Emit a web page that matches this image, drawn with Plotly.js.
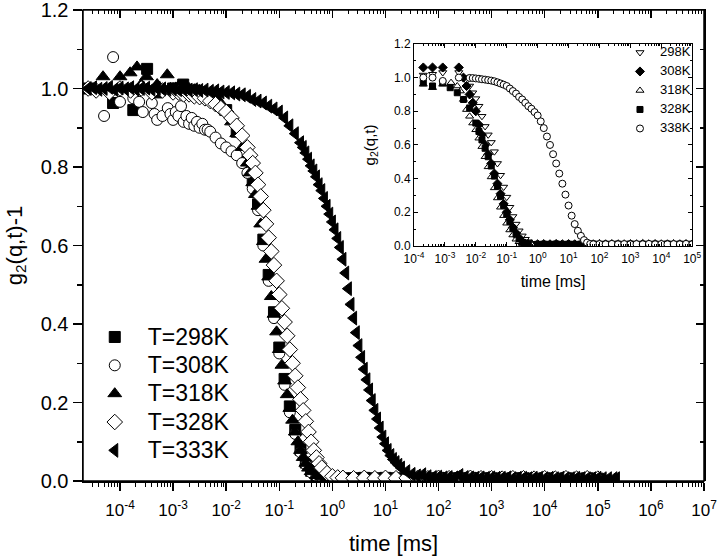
<!DOCTYPE html>
<html>
<head>
<meta charset="utf-8">
<script src="https://cdn.plot.ly/plotly-3.0.1.min.js"></script>
<style>html,body{margin:0;padding:0;background:#fff;}#chart{width:720px;height:559px;}</style>
</head>
<body>
<div id="chart"></div>
<script>
// ---------------- Main chart data (time in ms, g2(q,t)-1) ----------------
const t298 = [2.51e-5, 7.41e-5, 1.78e-4, 3.24e-4, 5.01e-4, 1.0e-3, 1.55e-3, 2.51e-3, 3.98e-3, 6.31e-3, 1.0e-2, 1.58e-2, 2.51e-2, 3.16e-2, 3.98e-2, 5.01e-2, 6.31e-2, 7.94e-2, 0.1, 0.126, 0.158, 0.2, 0.251, 0.316, 0.398, 0.501, 0.631, 1.0, 1.58, 2.51, 3.98, 6.31, 10, 15.8, 25.1, 39.8, 63.1, 100, 158, 251, 398, 631, 1000, 1580, 2510, 3980, 6310, 1e4, 1.58e4, 2.51e4, 3.98e4, 6.31e4, 1e5];
const g298 = [1.0, 0.963, 0.945, 1.05, 0.99, 1.0, 1.01, 0.995, 0.985, 0.97, 0.945, 0.89, 0.815, 0.765, 0.705, 0.615, 0.525, 0.43, 0.34, 0.26, 0.19, 0.13, 0.08, 0.047, 0.026, 0.015, 0.01, 0.008, 0.007, 0.007, 0.008, 0.007, 0.008, 0.007, 0.008, 0.007, 0.007, 0.008, 0.007, 0.007, 0.008, 0.007, 0.007, 0.006, 0.007, 0.007, 0.006, 0.007, 0.006, 0.007, 0.006, 0.007, 0.006];

const t308 = [5.01e-5, 7.41e-5, 1.0e-4, 1.78e-4, 2.29e-4, 2.69e-4, 3.98e-4, 4.47e-4, 5.01e-4, 6.31e-4, 7.94e-4, 8.91e-4, 1.0e-3, 1.12e-3, 1.26e-3, 1.41e-3, 1.58e-3, 1.78e-3, 2.0e-3, 2.24e-3, 2.51e-3, 2.82e-3, 3.16e-3, 3.55e-3, 3.98e-3, 4.47e-3, 5.01e-3, 6.31e-3, 7.94e-3, 1.0e-2, 1.26e-2, 1.58e-2, 2.0e-2, 2.51e-2, 3.16e-2, 3.98e-2, 5.01e-2, 6.31e-2, 7.94e-2, 0.1, 0.126, 0.158, 0.2, 0.251, 0.316, 0.398, 0.501, 0.631, 1.0, 1.58, 2.51, 3.98, 6.31, 10, 15.8, 25.1, 39.8, 63.1, 100, 158, 251, 398, 631, 1000, 1580, 2510, 3980, 6310, 1e4, 1.58e4, 2.51e4, 3.98e4, 6.31e4, 1e5];
const g308 = [0.93, 1.08, 0.966, 0.975, 0.966, 0.94, 0.963, 0.935, 0.92, 0.93, 0.95, 0.935, 0.92, 0.94, 0.93, 0.955, 0.915, 0.93, 0.91, 0.925, 0.905, 0.915, 0.90, 0.91, 0.895, 0.895, 0.89, 0.875, 0.86, 0.85, 0.84, 0.83, 0.81, 0.785, 0.745, 0.69, 0.60, 0.51, 0.415, 0.325, 0.245, 0.175, 0.12, 0.073, 0.042, 0.022, 0.013, 0.009, 0.008, 0.007, 0.008, 0.007, 0.008, 0.007, 0.008, 0.007, 0.008, 0.007, 0.007, 0.008, 0.007, 0.007, 0.007, 0.006, 0.007, 0.007, 0.006, 0.007, 0.006, 0.007, 0.006, 0.007, 0.006, 0.007];

const t318 = [2.51e-5, 4.79e-5, 1.0e-4, 1.55e-4, 2.09e-4, 2.51e-4, 3.16e-4, 5.01e-4, 7.76e-4, 1.0e-3, 1.26e-3, 1.58e-3, 2.0e-3, 2.51e-3, 3.16e-3, 3.98e-3, 5.01e-3, 6.31e-3, 7.94e-3, 1.0e-2, 1.26e-2, 1.58e-2, 2.0e-2, 2.51e-2, 2.82e-2, 3.16e-2, 3.55e-2, 3.98e-2, 4.47e-2, 5.01e-2, 5.62e-2, 6.31e-2, 7.08e-2, 7.94e-2, 8.91e-2, 0.1, 0.112, 0.126, 0.141, 0.158, 0.178, 0.2, 0.224, 0.251, 0.282, 0.316, 0.355, 0.398, 0.501, 0.631, 0.794, 1.0, 1.58, 2.51, 3.98, 6.31, 10, 15.8, 25.1, 39.8, 63.1, 100, 158, 251, 398, 631, 1000, 1580, 2510, 3980, 6310, 1e4, 1.58e4, 2.51e4, 3.98e4, 6.31e4, 1e5];
const g318 = [1.0, 1.03, 1.03, 1.04, 1.055, 1.01, 1.03, 1.01, 1.035, 1.0, 1.005, 0.998, 1.0, 0.997, 0.995, 0.99, 0.985, 0.975, 0.962, 0.94, 0.915, 0.885, 0.85, 0.81, 0.785, 0.76, 0.73, 0.70, 0.655, 0.61, 0.565, 0.52, 0.47, 0.425, 0.38, 0.335, 0.295, 0.255, 0.22, 0.185, 0.155, 0.125, 0.10, 0.078, 0.06, 0.045, 0.033, 0.024, 0.014, 0.011, 0.009, 0.008, 0.008, 0.007, 0.009, 0.007, 0.008, 0.007, 0.008, 0.007, 0.008, 0.007, 0.008, 0.007, 0.007, 0.008, 0.007, 0.007, 0.006, 0.007, 0.007, 0.006, 0.007, 0.006, 0.007, 0.006, 0.007];

const t328 = [2.51e-5, 3.55e-5, 6.31e-5, 1.0e-4, 1.58e-4, 2.51e-4, 3.98e-4, 6.31e-4, 1.0e-3, 1.26e-3, 1.58e-3, 2.0e-3, 2.51e-3, 3.16e-3, 3.98e-3, 5.01e-3, 6.31e-3, 7.94e-3, 1.0e-2, 1.26e-2, 1.58e-2, 2.0e-2, 2.51e-2, 2.82e-2, 3.16e-2, 3.55e-2, 3.98e-2, 4.47e-2, 5.01e-2, 5.62e-2, 6.31e-2, 7.08e-2, 7.94e-2, 8.91e-2, 0.1, 0.112, 0.126, 0.141, 0.158, 0.178, 0.2, 0.224, 0.251, 0.282, 0.316, 0.355, 0.398, 0.447, 0.501, 0.562, 0.631, 0.794, 1.0, 1.26, 1.58, 2.51, 3.98, 6.31, 10, 15.8, 25.1, 39.8, 63.1, 100, 158, 251, 398, 631, 1000, 1580, 2510, 3980, 6310, 1e4, 1.58e4, 2.51e4, 3.98e4, 6.31e4, 1e5];
const g328 = [1.0, 0.995, 0.99, 1.0, 0.995, 1.0, 0.99, 0.995, 0.99, 0.99, 0.985, 0.985, 0.98, 0.978, 0.975, 0.968, 0.96, 0.95, 0.94, 0.925, 0.905, 0.88, 0.85, 0.83, 0.81, 0.785, 0.755, 0.725, 0.69, 0.655, 0.62, 0.585, 0.55, 0.51, 0.475, 0.44, 0.405, 0.37, 0.335, 0.30, 0.268, 0.238, 0.208, 0.18, 0.152, 0.125, 0.10, 0.078, 0.06, 0.045, 0.034, 0.02, 0.012, 0.009, 0.008, 0.007, 0.008, 0.007, 0.008, 0.007, 0.008, 0.007, 0.007, 0.008, 0.007, 0.007, 0.008, 0.007, 0.007, 0.006, 0.007, 0.007, 0.006, 0.007, 0.006, 0.007, 0.006, 0.007, 0.006];

const t333 = [2.51e-5, 3.16e-5, 3.98e-5, 5.01e-5, 6.31e-5, 7.94e-5, 1.0e-4, 1.26e-4, 1.58e-4, 2.0e-4, 2.51e-4, 3.16e-4, 3.98e-4, 5.01e-4, 6.31e-4, 7.94e-4, 1.0e-3, 1.26e-3, 1.58e-3, 2.0e-3, 2.51e-3, 3.16e-3, 3.98e-3, 5.01e-3, 6.31e-3, 7.94e-3, 1.0e-2, 1.26e-2, 1.58e-2, 2.0e-2, 2.51e-2, 3.16e-2, 3.98e-2, 5.01e-2, 6.31e-2, 7.94e-2, 0.1, 0.126, 0.158, 0.2, 0.251, 0.282, 0.316, 0.355, 0.398, 0.447, 0.501, 0.562, 0.631, 0.708, 0.794, 0.891, 1.0, 1.12, 1.26, 1.41, 1.58, 1.78, 2.0, 2.24, 2.51, 2.82, 3.16, 3.55, 3.98, 4.47, 5.01, 5.62, 6.31, 7.08, 7.94, 8.91, 10, 11.2, 12.6, 14.1, 15.8, 17.8, 20, 25.1, 31.6, 39.8, 50.1, 63.1, 79.4, 100, 126, 158, 200, 251, 316, 398, 501, 631, 794, 1000, 1260, 1580, 2000, 2510, 3160, 3980, 5010, 6310, 7940, 1e4, 1.26e4, 1.58e4, 2e4, 2.51e4, 3.16e4, 3.98e4, 5.01e4, 6.31e4, 7.94e4, 1e5, 1.26e5, 1.58e5, 2e5, 2.24e5];
const g333 = [1.0, 1.002, 0.998, 1.0, 1.003, 0.997, 1.001, 0.999, 1.002, 0.998, 1.0, 1.001, 0.998, 1.0, 0.999, 0.998, 0.999, 0.997, 0.998, 0.996, 0.997, 0.995, 0.996, 0.993, 0.994, 0.991, 0.99, 0.989, 0.986, 0.984, 0.98, 0.972, 0.968, 0.963, 0.955, 0.948, 0.94, 0.925, 0.905, 0.885, 0.862, 0.85, 0.836, 0.82, 0.803, 0.79, 0.775, 0.755, 0.74, 0.72, 0.70, 0.68, 0.66, 0.64, 0.618, 0.595, 0.565, 0.53, 0.49, 0.45, 0.415, 0.378, 0.345, 0.315, 0.285, 0.258, 0.232, 0.205, 0.18, 0.158, 0.135, 0.112, 0.095, 0.078, 0.065, 0.055, 0.047, 0.04, 0.033, 0.024, 0.017, 0.013, 0.016, 0.011, 0.009, 0.01, 0.008, 0.009, 0.008, 0.014, 0.009, 0.008, 0.007, 0.008, 0.007, 0.008, 0.007, 0.007, 0.008, 0.006, 0.007, 0.007, 0.006, 0.007, 0.007, 0.006, 0.007, 0.006, 0.007, 0.006, 0.006, 0.007, 0.006, 0.006, 0.006, 0.007, 0.006, 0.006, 0.006, 0.006];

// ---------------- Inset data (time in ms, g2(q,t)) ----------------
const tIn298 = [2.0e-4, 3.98e-4, 8.51e-4, 2.82e-3, 3.98e-3, 5.01e-3, 6.31e-3, 7.94e-3, 1.0e-2, 1.26e-2, 1.58e-2, 2.0e-2, 2.51e-2, 3.16e-2, 3.98e-2, 5.01e-2, 6.31e-2, 7.94e-2, 0.1, 0.126, 0.158, 0.2, 0.251, 0.316, 0.398, 0.501, 0.631, 0.794, 1.0, 1.58, 2.51, 3.98, 6.31, 10, 15.8, 25.1, 39.8, 63.1, 100, 158, 251, 398, 631, 1000, 1580, 2510, 3980, 6310, 1e4, 1.58e4, 2.51e4, 3.98e4, 6.31e4, 1e5];
const gIn298 = [1.015, 1.02, 1.03, 1.03, 1.0, 0.98, 0.95, 0.91, 0.875, 0.83, 0.77, 0.71, 0.66, 0.615, 0.56, 0.49, 0.42, 0.35, 0.29, 0.23, 0.175, 0.13, 0.09, 0.06, 0.04, 0.025, 0.015, 0.012, 0.011, 0.01, 0.012, 0.01, 0.011, 0.01, 0.012, 0.01, 0.011, 0.01, 0.011, 0.01, 0.012, 0.01, 0.011, 0.01, 0.011, 0.01, 0.012, 0.01, 0.011, 0.01, 0.011, 0.01, 0.012, 0.01];

const tIn308 = [2.0e-4, 3.98e-4, 8.51e-4, 2.82e-3, 3.98e-3, 5.01e-3, 6.31e-3, 7.94e-3, 1.0e-2, 1.26e-2, 1.58e-2, 2.0e-2, 2.51e-2, 3.16e-2, 3.98e-2, 5.01e-2, 6.31e-2, 7.94e-2, 0.1, 0.126, 0.158, 0.2, 0.251, 0.316, 0.398, 0.501, 0.631, 1.0, 1.58, 2.51, 3.98, 6.31, 10, 15.8, 25.1, 39.8, 63.1, 100, 158, 251, 398, 631, 1000, 1580, 2510, 3980, 6310, 1e4, 1.58e4, 2.51e4, 3.98e4, 6.31e4, 1e5];
const gIn308 = [1.06, 1.06, 1.06, 1.06, 1.0, 0.95, 0.9, 0.85, 0.80, 0.72, 0.66, 0.60, 0.545, 0.49, 0.43, 0.37, 0.31, 0.25, 0.20, 0.155, 0.11, 0.075, 0.045, 0.025, 0.014, 0.011, 0.01, 0.01, 0.011, 0.01, 0.012, 0.01, 0.011, 0.01, 0.01, 0.011, 0.01, 0.012, 0.01, 0.011, 0.01, 0.01, 0.011, 0.01, 0.012, 0.01, 0.011, 0.01, 0.01, 0.011, 0.01, 0.011, 0.01];

const tIn318 = [2.0e-4, 3.98e-4, 8.51e-4, 1.58e-3, 2.51e-3, 3.16e-3, 3.98e-3, 5.01e-3, 6.31e-3, 7.94e-3, 1.0e-2, 1.26e-2, 1.58e-2, 2.0e-2, 2.51e-2, 3.16e-2, 3.98e-2, 5.01e-2, 6.31e-2, 7.94e-2, 0.1, 0.126, 0.158, 0.2, 0.251, 0.316, 0.398, 0.631, 1.0, 1.58, 2.51, 3.98, 6.31, 10, 15.8, 25.1, 39.8, 63.1, 100, 158, 251, 398, 631, 1000, 1580, 2510, 3980, 6310, 1e4, 1.58e4, 2.51e4, 3.98e4, 6.31e4, 1e5];
const gIn318 = [0.96, 0.94, 0.96, 0.97, 0.95, 0.92, 0.87, 0.81, 0.77, 0.73, 0.69, 0.64, 0.59, 0.53, 0.47, 0.41, 0.345, 0.285, 0.23, 0.18, 0.135, 0.095, 0.065, 0.04, 0.025, 0.015, 0.011, 0.01, 0.011, 0.01, 0.012, 0.01, 0.011, 0.01, 0.011, 0.01, 0.012, 0.01, 0.011, 0.01, 0.011, 0.01, 0.012, 0.01, 0.011, 0.01, 0.011, 0.01, 0.012, 0.01, 0.011, 0.01, 0.011, 0.01];

const tIn328 = [2.0e-4, 3.98e-4, 8.51e-4, 1.48e-3, 2.51e-3, 3.98e-3, 6.31e-3, 1.0e-2, 1.26e-2, 1.58e-2, 2.0e-2, 2.51e-2, 3.16e-2, 3.98e-2, 5.01e-2, 6.31e-2, 7.94e-2, 0.1, 0.126, 0.158, 0.2, 0.251, 0.316, 0.398, 0.501, 1.0, 1.58, 2.51, 3.98, 6.31, 10, 15.8, 25.1, 39.8, 63.1, 100, 158, 251, 398, 631, 1000, 1580, 2510, 3980, 6310, 1e4, 1.58e4, 2.51e4, 3.98e4, 6.31e4, 1e5];
const gIn328 = [0.97, 0.95, 0.97, 0.94, 0.91, 0.87, 0.82, 0.73, 0.68, 0.63, 0.58, 0.53, 0.475, 0.415, 0.355, 0.295, 0.24, 0.19, 0.145, 0.105, 0.07, 0.042, 0.022, 0.012, 0.01, 0.01, 0.011, 0.01, 0.012, 0.01, 0.011, 0.01, 0.011, 0.01, 0.012, 0.01, 0.011, 0.01, 0.011, 0.01, 0.012, 0.01, 0.011, 0.01, 0.011, 0.01, 0.012, 0.01, 0.011, 0.01, 0.011];

const tIn338 = [2.0e-4, 3.98e-4, 8.51e-4, 2.82e-3, 6.31e-3, 7.94e-3, 1.0e-2, 1.26e-2, 1.58e-2, 2.0e-2, 2.51e-2, 3.16e-2, 3.98e-2, 5.01e-2, 6.31e-2, 7.94e-2, 0.1, 0.126, 0.158, 0.2, 0.251, 0.316, 0.398, 0.501, 0.631, 0.794, 1.0, 1.26, 1.58, 2.0, 2.51, 3.16, 3.98, 5.01, 6.31, 7.94, 10, 12.6, 15.8, 20, 25.1, 31.6, 39.8, 50.1, 63.1, 100, 158, 251, 398, 631, 1000, 1580, 2510, 3980, 6310, 1e4, 1.58e4, 2.51e4, 3.98e4, 6.31e4, 1e5];
const gIn338 = [1.0, 1.0, 0.98, 1.0, 0.998, 0.997, 0.995, 0.993, 0.99, 0.988, 0.985, 0.982, 0.978, 0.972, 0.965, 0.958, 0.95, 0.935, 0.92, 0.905, 0.885, 0.87, 0.85, 0.83, 0.815, 0.795, 0.775, 0.74, 0.70, 0.65, 0.60, 0.545, 0.49, 0.43, 0.37, 0.305, 0.24, 0.18, 0.13, 0.09, 0.06, 0.035, 0.02, 0.012, 0.01, 0.011, 0.01, 0.012, 0.01, 0.011, 0.01, 0.011, 0.01, 0.012, 0.01, 0.011, 0.01, 0.011, 0.01, 0.012, 0.01];

// ---------------- Labels / ticks ----------------
const mainNames = ['T=298K', 'T=308K', 'T=318K', 'T=328K', 'T=333K'];
const insetNames = ['298K', '308K', '318K', '328K', '338K'];
const mainTickVals = [1e-4, 1e-3, 1e-2, 1e-1, 1e0, 1e1, 1e2, 1e3, 1e4, 1e5, 1e6, 1e7];
const mainTickText = ['10<sup>-4</sup>', '10<sup>-3</sup>', '10<sup>-2</sup>', '10<sup>-1</sup>', '10<sup>0</sup>', '10<sup>1</sup>', '10<sup>2</sup>', '10<sup>3</sup>', '10<sup>4</sup>', '10<sup>5</sup>', '10<sup>6</sup>', '10<sup>7</sup>'];
const insetTickVals = [1e-4, 1e-3, 1e-2, 1e-1, 1e0, 1e1, 1e2, 1e3, 1e4, 1e5];
const insetTickText = ['10<sup>-4</sup>', '10<sup>-3</sup>', '10<sup>-2</sup>', '10<sup>-1</sup>', '10<sup>0</sup>', '10<sup>1</sup>', '10<sup>2</sup>', '10<sup>3</sup>', '10<sup>4</sup>', '10<sup>5</sup>'];
const yTickVals = [0, 0.2, 0.4, 0.6, 0.8, 1.0, 1.2];
const yTickText = ['0.0', '0.2', '0.4', '0.6', '0.8', '1.0', '1.2'];
const yMinorVals = [0.1, 0.3, 0.5, 0.7, 0.9, 1.1];

function minorLogTicks(lo, hi) {
  const v = [];
  for (let e = lo; e < hi; e++) for (let m = 2; m <= 9; m++) v.push(m * Math.pow(10, e));
  return v;
}
const mainMinor = minorLogTicks(-5, 7);
const insetMinor = minorLogTicks(-4, 5);

const FONT = 'Liberation Sans, Arial, Helvetica, sans-serif';
const BLK = '#000';

function label(txt, px) { return '<span style="font-size:' + px + 'px">' + txt + '</span>'; }

function mk(x, y, name, symbol, size, fill, legend, xa, ya) {
  return {
    type: 'scatter', mode: 'markers', x: x, y: y, name: name,
    xaxis: xa, yaxis: ya, legend: legend,
    marker: { symbol: symbol, size: size, color: fill, line: { color: BLK, width: 1 } },
    hoverinfo: 'skip'
  };
}

const traces = [
  mk(t298, g298, label(mainNames[0], 23), 'square', 11, BLK, 'legend', 'x', 'y'),
  mk(t308, g308, label(mainNames[1], 23), 'circle', 11, '#fff', 'legend', 'x', 'y'),
  mk(t318, g318, label(mainNames[2], 23), 'triangle-up', 12, BLK, 'legend', 'x', 'y'),
  mk(t328, g328, label(mainNames[3], 23), 'diamond', 12, '#fff', 'legend', 'x', 'y'),
  // drawn through the twin (top/right) axes, which share the main plot area and scales
  mk(t333, g333, label(mainNames[4], 23), 'triangle-left', 12, BLK, 'legend', 'x4', 'y4'),
  mk(tIn298, gIn298, label(insetNames[0], 13), 'triangle-down', 7, '#fff', 'legend2', 'x2', 'y2'),
  mk(tIn308, gIn308, label(insetNames[1], 13), 'diamond', 7, BLK, 'legend2', 'x2', 'y2'),
  mk(tIn318, gIn318, label(insetNames[2], 13), 'triangle-up', 7, '#fff', 'legend2', 'x2', 'y2'),
  mk(tIn328, gIn328, label(insetNames[3], 13), 'square', 6, BLK, 'legend2', 'x2', 'y2'),
  mk(tIn338, gIn338, label(insetNames[4], 13), 'circle', 7, '#fff', 'legend2', 'x2', 'y2')
];

const MAIN_XRANGE = [-4.697, 7];

const layout = {
  width: 720, height: 559,
  margin: { l: 83, r: 16, t: 10, b: 78, pad: 0 },
  paper_bgcolor: '#fff', plot_bgcolor: 'rgba(0,0,0,0)',
  font: { family: FONT, color: BLK },
  showlegend: true,
  xaxis: {
    type: 'log', range: MAIN_XRANGE, domain: [0, 1], anchor: 'y',
    showline: true, linecolor: BLK, linewidth: 1.5, mirror: false,
    ticks: 'outside', ticklen: 8, tickwidth: 1.5, tickcolor: BLK,
    tickmode: 'array', tickvals: mainTickVals, ticktext: mainTickText,
    tickfont: { size: 17, family: FONT }, ticklabelstandoff: 5, ticklabeloverflow: 'allow',
    minor: { tickmode: 'array', tickvals: mainMinor, ticks: 'outside', ticklen: 4, tickwidth: 1, tickcolor: BLK, showgrid: false },
    showgrid: false, zeroline: false, automargin: false,
    title: { text: 'time [ms]', font: { size: 22, family: FONT }, standoff: 16 }
  },
  yaxis: {
    range: [0, 1.2], domain: [0, 1], anchor: 'x',
    tickmode: 'array', tickvals: yTickVals, ticktext: yTickText,
    showline: true, linecolor: BLK, linewidth: 1.5,
    ticks: 'outside', ticklen: 9, tickwidth: 1.5, tickcolor: BLK,
    tickfont: { size: 20, family: FONT }, ticklabeloverflow: 'allow',
    minor: { tickmode: 'array', tickvals: yMinorVals, ticks: 'outside', ticklen: 5, tickwidth: 1.5, tickcolor: BLK, showgrid: false },
    showgrid: false, zeroline: false, automargin: false,
    title: { text: 'g<sub>2</sub>(q,t)-1', font: { size: 22, family: FONT }, standoff: 12 }
  },
  xaxis4: {
    type: 'log', range: MAIN_XRANGE, domain: [0, 1], side: 'top', anchor: 'y4',
    showline: true, linecolor: BLK, linewidth: 1.5,
    ticks: 'inside', ticklen: 8, tickwidth: 1.5, tickcolor: BLK,
    tickmode: 'array', tickvals: mainTickVals, ticktext: mainTickText, showticklabels: false,
    minor: { tickmode: 'array', tickvals: mainMinor, ticks: 'inside', ticklen: 4, tickwidth: 1, tickcolor: BLK, showgrid: false },
    showgrid: false, zeroline: false, automargin: false
  },
  yaxis4: {
    range: [0, 1.2], domain: [0, 1], side: 'right', anchor: 'x4',
    tickmode: 'array', tickvals: yTickVals, ticktext: yTickText, showticklabels: false,
    showline: true, linecolor: BLK, linewidth: 1.5,
    ticks: 'inside', ticklen: 8, tickwidth: 1.5, tickcolor: BLK,
    minor: { tickmode: 'array', tickvals: yMinorVals, ticks: 'inside', ticklen: 4, tickwidth: 1.5, tickcolor: BLK, showgrid: false },
    showgrid: false, zeroline: false, automargin: false
  },
  xaxis2: {
    type: 'log', range: [-4, 5], domain: [0.533, 0.981], anchor: 'y2',
    showline: true, linecolor: BLK, linewidth: 1, mirror: 'ticks',
    ticks: 'inside', ticklen: 4, tickwidth: 1, tickcolor: BLK,
    tickmode: 'array', tickvals: insetTickVals, ticktext: insetTickText,
    tickfont: { size: 12, family: FONT }, ticklabelstandoff: 2,
    minor: { tickmode: 'array', tickvals: insetMinor, ticks: 'inside', ticklen: 2, tickwidth: 1, tickcolor: BLK, showgrid: false },
    showgrid: false, zeroline: false, automargin: false,
    title: { text: 'time [ms]', font: { size: 16, family: FONT }, standoff: 10 }
  },
  yaxis2: {
    range: [0, 1.2], domain: [0.499, 0.928], anchor: 'x2',
    tickmode: 'array', tickvals: yTickVals, ticktext: yTickText,
    showline: true, linecolor: BLK, linewidth: 1, mirror: 'ticks',
    ticks: 'inside', ticklen: 4, tickwidth: 1, tickcolor: BLK,
    tickfont: { size: 12, family: FONT },
    minor: { tickmode: 'array', tickvals: yMinorVals, ticks: 'inside', ticklen: 2, tickwidth: 1, tickcolor: BLK, showgrid: false },
    showgrid: false, zeroline: false, automargin: false,
    title: { text: 'g<sub>2</sub>(q,t)', font: { size: 15, family: FONT }, standoff: 14 }
  },
  shapes: [
    { type: 'rect', xref: 'paper', yref: 'paper', x0: 0, x1: 1, y0: 0, y1: 1, line: { color: BLK, width: 1.5 } }
  ],
  legend: {
    x: -0.002, y: 0.3465, xanchor: 'left', yanchor: 'top',
    font: { size: 19.5, family: FONT, color: BLK },
    bgcolor: 'rgba(0,0,0,0)', borderwidth: 0, tracegroupgap: 0, itemsizing: 'trace', itemwidth: 56
  },
  legend2: {
    x: 0.8647, y: 0.9406, xanchor: 'left', yanchor: 'top',
    font: { size: 9.5, family: FONT, color: BLK },
    bgcolor: 'rgba(0,0,0,0)', borderwidth: 0, tracegroupgap: 0, itemsizing: 'trace'
  }
};

Plotly.newPlot('chart', traces, layout, { staticPlot: true, displayModeBar: false });
</script>
</body>
</html>
